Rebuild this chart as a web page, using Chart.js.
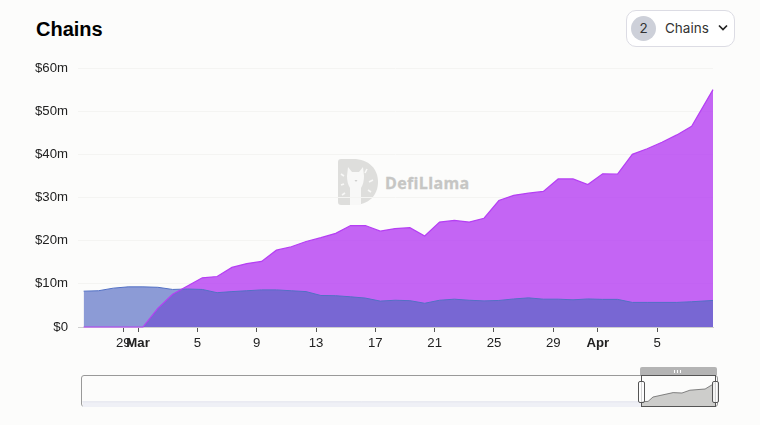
<!DOCTYPE html>
<html>
<head>
<meta charset="utf-8">
<title>Chains</title>
<script src="https://cdn.jsdelivr.net/npm/chart.js@4"></script>
<style>
    html, body { margin: 0; padding: 0; background: #fcfcfb; }
    body { position: relative; width: 760px; height: 425px; overflow: hidden; font-family: "Liberation Sans", sans-serif; }
    canvas { position: absolute; display: block; }
    #mainChart { left: 0; top: 0; }
    #title { position: absolute; left: 36px; top: 17px; font-size: 20px; line-height: 24px; font-weight: bold; color: #000; }
    #picker { position: absolute; left: 626px; top: 10px; width: 107px; height: 35px; background: #fff; border: 1px solid #dcdce4; border-radius: 10px; font-family: Inter, sans-serif; font-size: 13.5px; color: #333; }
    #count { position: absolute; left: 4px; top: 5px; width: 25px; height: 25px; line-height: 25px; border-radius: 50%; background: #cdd0d9; text-align: center; }
    #pickerName { position: absolute; left: 38px; top: 0; line-height: 35px; }
    #chevron { position: absolute; left: 91px; top: 13px; }
    #mark { position: absolute; left: 337px; top: 158px; }
    #markName { position: absolute; left: 385px; top: 172px; font-family: "Open Sans", sans-serif; font-weight: 700; font-size: 16px; line-height: 22px; letter-spacing: 0.35px; -webkit-text-stroke: 0.3px #c6c6c4; color: #c6c6c4; }
    #navBox { position: absolute; left: 81px; top: 375px; width: 635px; height: 30px; border: 1px solid #999; border-radius: 3px; }
    #miniChart { left: 81px; top: 375px; }
    #selBar { position: absolute; left: 640px; top: 367px; width: 77px; height: 8px; background: #b4b4b4; border-radius: 2px 2px 0 0; }
    #selBar i { position: absolute; left: 34px; top: 3px; width: 7px; height: 3px; background: repeating-linear-gradient(90deg, #fff 0 1px, transparent 1px 3px); }
    #selTop { position: absolute; left: 641px; top: 375px; width: 75px; height: 32px; border: 1px solid #555; box-sizing: border-box; }
    .handle { position: absolute; top: 381px; width: 5px; height: 20px; background: rgba(255, 255, 255, 0.75); border: 1px solid #555; border-radius: 2px; }
</style>
</head>
<body>
<div id="title">Chains</div>
<div id="picker">
    <div id="count">2</div>
    <div id="pickerName">Chains</div>
    <svg id="chevron" width="10" height="8" viewBox="0 0 10 8"><path d="M1 1.5 L5 5.5 L9 1.5" fill="none" stroke="#222" stroke-width="1.7"/></svg>
</div>
<svg id="mark" width="42" height="48" viewBox="0 0 42 48">
    <path d="M4 1 H16 C32 1 41 11 41 24 C41 37 32 47 16 47 H4 C2 47 1 46 1 44 V4 C1 2 2 1 4 1 Z" fill="#dededc"/>
    <path d="M13 47 V30 C11 27 10 23 10 18 L11 9 L15 14 H22 L26 9 L27 18 C27 23 26 27 24 30 V47 Z" fill="#f8f8f7"/>
    <path d="M17.5 22 H20.5 L19 24 Z" fill="#d0d0ce"/>
    <path d="M4 16 L7 18 M4 27 L7 26 M5 37 L8 35 M30 11 L28 15 M36 22 L32 24 M34 34 L31 32" stroke="#f8f8f7" stroke-width="1.6" fill="none"/>
</svg>
<div id="markName">DefiLlama</div>
<canvas id="mainChart" width="760" height="360"></canvas>
<div id="navBox"></div>
<canvas id="miniChart" width="637" height="32"></canvas>
<div id="selBar"><i></i></div>
<div id="selTop"></div>
<div class="handle" style="left:638px"></div>
<div class="handle" style="left:712px"></div>
<script>
// days counted from 1 March
const days = [-3.67, -2.67, -1.67, -0.67, 0.33, 1.33, 2.33, 3.33, 4.33, 5.33, 6.33, 7.33, 8.33, 9.33, 10.33, 11.33, 12.33, 13.33, 14.33, 15.33, 16.33, 17.33, 18.33, 19.33, 20.33, 21.33, 22.33, 23.33, 24.33, 25.33, 26.33, 27.33, 28.33, 29.33, 30.33, 31.33, 32.33, 33.33, 34.33, 35.33, 36.33, 37.33, 38.77];

const purpleValues = [0, 0, 0, 0, 0, 4.3, 7.6, 9.5, 11.4, 11.7, 13.8, 14.7, 15.2, 17.8, 18.6, 19.8, 20.7, 21.7, 23.5, 23.5, 22.2, 22.8, 23.0, 21.1, 24.3, 24.7, 24.3, 25.2, 29.3, 30.5, 31.0, 31.4, 34.3, 34.3, 33.0, 35.5, 35.4, 40.0, 41.3, 42.8, 44.5, 46.5, 55.0];
const blueValues = [8.3, 8.4, 9.0, 9.3, 9.3, 9.2, 8.7, 8.8, 8.7, 7.95, 8.2, 8.4, 8.6, 8.6, 8.4, 8.2, 7.3, 7.25, 7.0, 6.7, 6.0, 6.2, 6.1, 5.5, 6.2, 6.45, 6.2, 6.05, 6.15, 6.5, 6.75, 6.45, 6.45, 6.3, 6.5, 6.4, 6.4, 5.7, 5.7, 5.7, 5.7, 5.85, 6.15];

const tickDays = [-1, 0, 4, 8, 12, 16, 20, 24, 28, 31, 35];
const tickLabels = ['29', 'Mar', '5', '9', '13', '17', '21', '25', '29', 'Apr', '5'];
const boldTicks = ['Mar', 'Apr'];

// overview strip under the chart
const miniBeforeDays = [-320, -3.67];
const miniBeforeValues = [13, 13];
const miniDays = [-3.67, 0.3, 3.1, 14.5, 19.5, 24, 32.6, 37.1, 38.8];
const miniValues = [13, 14, 25, 36, 35, 42, 45, 57, 62];

function toPoints(xs, ys) {
    return xs.map((x, i) => ({ x: x, y: ys[i] }));
}

new Chart(document.getElementById('mainChart'), {
    type: 'line',
    data: {
        datasets: [
            // purple outline drawn on top, it shows over the blue fill in the original
            {
                label: 'Purple outline',
                data: toPoints(days, purpleValues),
                borderColor: '#b53ff3',
                borderWidth: 1.2,
                pointRadius: 0,
                fill: false,
                clip: false
            },
            {
                label: 'Blue chain',
                data: toPoints(days, blueValues),
                borderColor: '#5270c4',
                backgroundColor: 'rgba(82, 105, 195, 0.66)',
                borderWidth: 1,
                pointRadius: 0,
                fill: 'origin'
            },
            {
                label: 'Purple chain',
                data: toPoints(days, purpleValues),
                backgroundColor: 'rgba(181, 63, 243, 0.8)',
                borderWidth: 0,
                pointRadius: 0,
                fill: 'origin'
            }
        ]
    },
    options: {
        responsive: false,
        animation: false,
        layout: { padding: { top: 68, right: 47 } },
        plugins: { legend: { display: false }, tooltip: { enabled: false } },
        scales: {
            x: {
                type: 'linear',
                min: -4.05,
                max: 38.77,
                afterBuildTicks: scale => {
                    scale.ticks = tickDays.map(d => ({ value: d }));
                },
                afterFit: scale => { scale.height = 33; },
                grid: { drawOnChartArea: false, tickLength: 5, tickColor: '#555', tickWidth: 1 },
                border: { color: '#cfcfcf' },
                ticks: {
                    autoSkip: false,
                    maxRotation: 0,
                    padding: 3,
                    color: '#222',
                    callback: value => tickLabels[tickDays.indexOf(value)],
                    font: ctx => ({
                        family: '"Liberation Sans"',
                        size: 13.2,
                        weight: boldTicks.includes(tickLabels[ctx.index]) ? 'bold' : 'normal'
                    })
                }
            },
            y: {
                min: 0,
                max: 60,
                afterFit: scale => { scale.width = 78; },
                grid: { color: '#f4f4f2', drawTicks: false },
                border: { display: false },
                ticks: {
                    stepSize: 10,
                    padding: 10,
                    color: '#222',
                    font: { family: '"Liberation Sans"', size: 13.2 },
                    callback: value => '$' + value + (value === 0 ? '' : 'm')
                }
            }
        }
    }
});

new Chart(document.getElementById('miniChart'), {
    type: 'line',
    data: {
        datasets: [
            {
                data: toPoints(miniDays, miniValues),
                borderColor: '#666',
                backgroundColor: '#cdcdcb',
                borderWidth: 0.8,
                pointRadius: 0,
                fill: 'origin'
            },
            {
                data: toPoints(miniBeforeDays, miniBeforeValues),
                borderColor: '#e2e3ee',
                backgroundColor: '#eff0f6',
                borderWidth: 1,
                pointRadius: 0,
                fill: 'origin'
            }
        ]
    },
    options: {
        responsive: false,
        animation: false,
        plugins: { legend: { display: false }, tooltip: { enabled: false } },
        scales: {
            x: { type: 'linear', display: false, min: -320.8, max: 39.9 },
            y: { display: false, min: 0, max: 80 }
        }
    }
});
</script>
</body>
</html>
